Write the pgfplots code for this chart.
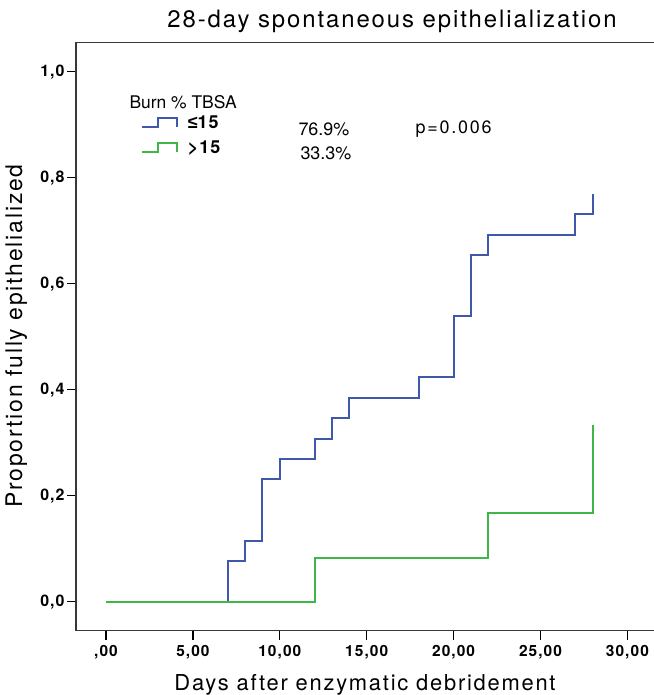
\documentclass[border=0pt]{standalone}
\usepackage{fontspec}
\setmainfont{TeX Gyre Heros}
\newfontfamily\symfont{Liberation Sans}
\usepackage{pgfplots}
\pgfplotsset{compat=1.18}
\definecolor{kmblue}{RGB}{64,88,172}
\definecolor{kmgreen}{RGB}{62,182,72}
\definecolor{framegray}{RGB}{55,55,55}

\begin{document}
\begin{tikzpicture}[x=1bp,y=1bp]
\useasboundingbox (0,0) rectangle (654,-695);
\begin{axis}[
  at={(76bp,-630.7bp)}, anchor=south west,
  scale only axis, width=580bp, height=588bp,
  xmin=-1.726, xmax=31.646, ymin=-0.0547, ymax=1.0547,
  axis line style={line width=1.3bp, framegray},
  tick align=outside, major tick length=9bp,
  tick style={line width=1.3bp, black},
  xtick pos=bottom, ytick pos=left,
  xtick={0,5,10,15,20,25,30},
  xticklabels={{,00},{5,00},{10,00},{15,00},{20,00},{25,00},{30,00}},
  ytick={0,0.2,0.4,0.6,0.8,1},
  yticklabels={{0,0},{0,2},{0,4},{0,6},{0,8},{1,0}},
  xticklabel style={yshift=-2bp, font=\fontsize{15.5}{17}\selectfont\bfseries\addfontfeature{LetterSpace=7}},
  yticklabel style={xshift=1bp, font=\fontsize{16}{18}\selectfont\bfseries\addfontfeature{LetterSpace=6}},
  legend style={at={(0.112,0.880)}, anchor=north west, draw=none, fill=none,
    inner sep=0pt, row sep=7bp, column sep=8bp, cells={anchor=west},
    font=\fontsize{18}{20}\selectfont\bfseries\addfontfeature{LetterSpace=6}},
  legend image code/.code={
    \draw[#1, line width=1.6bp] (0bp,-4.5bp) -- (16bp,-4.5bp) -- (16bp,4.5bp) -- (35bp,4.5bp) -- (35bp,-4.5bp);
  },
]
\addplot[const plot, kmblue, line width=2bp] coordinates {
  (0,0) (7,0.0769) (8,0.1154) (9,0.2308) (10,0.2692) (12,0.3077) (13,0.3462)
  (14,0.3846) (18,0.4231) (20,0.5385) (21,0.6538) (22,0.6923) (27,0.7308) (28,0.7692)
};
\addlegendentry{{\symfont ≤}15}
\addplot[const plot, kmgreen, line width=2bp] coordinates {
  (0,0) (12,0.0833) (22,0.1667) (28,0.3333)
};
\addlegendentry{>15}
\end{axis}
\node[anchor=base] at (392,-28) {\fontsize{24}{27}\selectfont\addfontfeature{LetterSpace=8}28-day spontaneous epithelialization};
\node[anchor=base] at (365,-690) {\fontsize{22}{25}\selectfont\addfontfeature{LetterSpace=8}Days after enzymatic debridement};
\node[anchor=base, rotate=90] at (22,-336) {\fontsize{23}{26}\selectfont\addfontfeature{LetterSpace=8}Proportion fully epithelialized};
\node[anchor=west] at (126,-102) {\fontsize{17.5}{19}\selectfont Burn \% TBSA};
\node[anchor=west] at (295,-129) {\fontsize{18}{20}\selectfont 76.9\%};
\node[anchor=west] at (297,-153) {\fontsize{18}{20}\selectfont 33.3\%};
\node[anchor=west] at (412,-129) {\fontsize{18}{20}\selectfont\addfontfeature{LetterSpace=10}p=0.006};
\end{tikzpicture}
\end{document}
